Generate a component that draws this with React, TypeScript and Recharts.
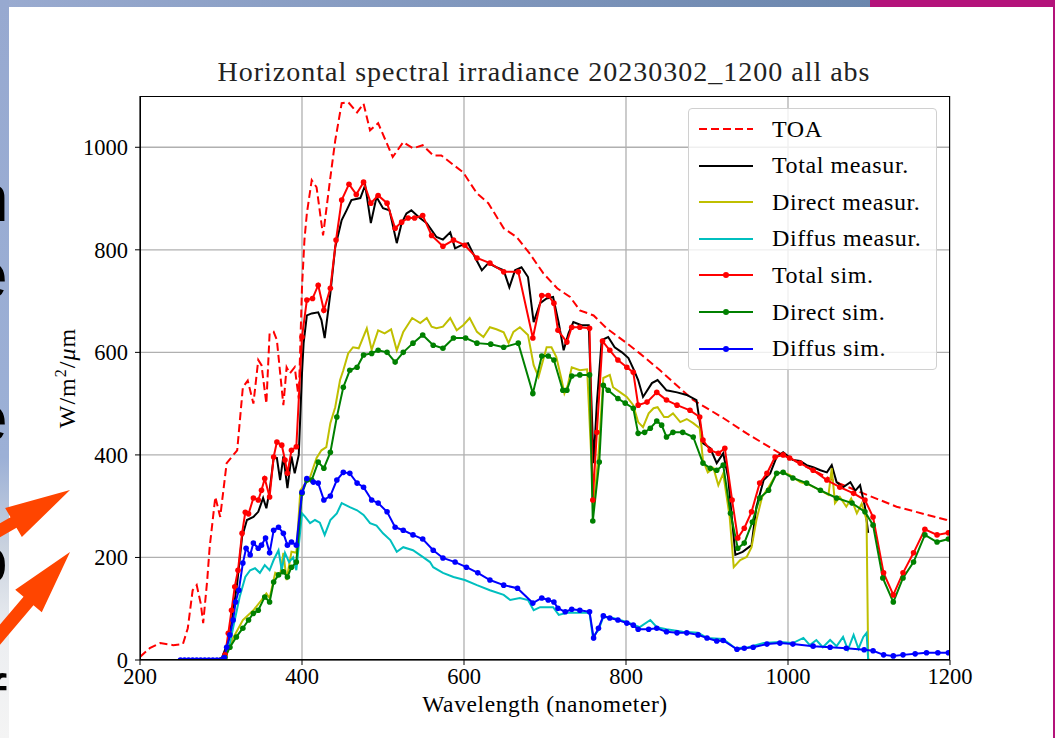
import { LineChart, Line, XAxis, YAxis, CartesianGrid } from "recharts";

// [wavelength nm, W/m2/um] pairs
const toa: [number, number][] = [
  [200, 6], [212, 23], [225, 33], [241, 29], [253, 31], [259, 62], [265, 136], [270, 146], [275, 110], [278, 72],
  [283, 156], [286, 220], [293, 318], [299, 279], [307, 384], [320, 409], [327, 532], [333, 545], [340, 500], [346, 585],
  [350, 575], [356, 500], [360, 637], [365, 640], [369, 624], [373, 560], [377, 497], [381, 571], [385, 559], [391, 571],
  [396, 510], [400, 727], [403, 819], [406, 871], [412, 936], [418, 922], [426, 828], [435, 941], [441, 1013], [449, 1086],
  [457, 1088], [468, 1068], [476, 1085], [484, 1033], [494, 1047], [512, 981], [525, 1010], [537, 998], [549, 1004], [562, 984],
  [572, 984], [599, 951], [616, 910], [630, 891], [649, 842], [665, 825], [681, 793], [698, 754], [715, 725], [731, 708],
  [743, 682], [760, 672], [776, 647], [801, 618], [817, 598], [842, 565], [883, 507], [920, 472], [949, 442], [990, 403],
  [1031, 370], [1064, 344], [1093, 325], [1134, 299], [1196, 273], [1200, 270],
];

const totalMeas: [number, number][] = [
  [300, 0], [310, 40], [320, 150], [326, 240], [332, 273], [340, 279], [346, 289], [352, 316], [356, 296], [360, 330],
  [365, 394], [369, 394], [373, 351], [377, 397], [382, 335], [387, 397], [391, 364], [396, 400], [400, 560], [402, 618],
  [406, 672], [412, 676], [420, 678], [424, 663], [428, 628], [435, 715], [441, 805], [449, 858], [455, 877], [461, 897],
  [472, 901], [478, 926], [485, 852], [492, 903], [500, 881], [508, 877], [517, 813], [523, 852], [529, 871], [535, 877],
  [544, 864], [554, 852], [566, 825], [574, 820], [583, 834], [589, 803], [597, 809], [605, 813], [614, 784], [622, 760],
  [630, 774], [640, 766], [649, 760], [656, 727], [663, 760], [671, 766], [679, 747], [686, 659], [694, 696], [702, 705],
  [710, 708], [717, 657], [723, 604], [729, 637], [735, 659], [745, 653], [754, 653], [760, 384], [764, 500], [770, 624],
  [778, 630], [786, 610], [795, 600], [803, 589], [810, 565], [815, 546], [821, 513], [832, 540], [839, 546], [850, 526],
  [863, 522], [875, 517], [887, 507], [895, 423], [904, 413], [912, 384], [920, 403], [926, 357], [935, 205], [944, 211],
  [955, 224], [961, 299], [970, 351], [978, 364], [986, 396], [994, 405], [1006, 390], [1015, 388], [1023, 380], [1031, 376],
  [1040, 370], [1048, 366], [1054, 380], [1060, 347], [1068, 337], [1077, 347], [1083, 330], [1089, 341], [1095, 299], [1099, 248],
];

const directMeas: [number, number][] = [
  [300, 0], [305, 5], [315, 43], [327, 78], [340, 97], [350, 117], [356, 130], [360, 121], [367, 170], [373, 165],
  [377, 209], [381, 156], [387, 211], [393, 209], [398, 331], [410, 357], [418, 394], [424, 409], [430, 415], [435, 462],
  [441, 493], [447, 546], [451, 565], [457, 598], [463, 610], [470, 608], [480, 647], [486, 605], [494, 643], [502, 637],
  [510, 645], [517, 604], [525, 640], [536, 667], [546, 657], [554, 667], [560, 650], [566, 647], [574, 650], [583, 667],
  [591, 643], [599, 653], [607, 667], [616, 640], [624, 630], [632, 649], [640, 645], [649, 639], [655, 618], [661, 640],
  [669, 649], [679, 634], [686, 575], [692, 552], [702, 610], [708, 610], [714, 591], [720, 550], [724, 520], [728, 535],
  [733, 571], [743, 565], [752, 567], [760, 300], [766, 400], [772, 550], [780, 556], [784, 532], [793, 522], [801, 513],
  [809, 497], [815, 464], [821, 454], [828, 481], [834, 491], [839, 493], [847, 474], [852, 474], [858, 481], [867, 464],
  [875, 470], [883, 462], [891, 452], [895, 390], [901, 366], [908, 374], [914, 341], [920, 364], [928, 279], [933, 181],
  [941, 195], [949, 201], [955, 220], [961, 273], [968, 318], [976, 337], [986, 364], [994, 366], [1002, 361], [1015, 347],
  [1027, 341], [1040, 331], [1050, 322], [1054, 374], [1058, 306], [1064, 318], [1072, 299], [1078, 315], [1085, 286], [1091, 305],
  [1097, 273], [1099, 4], [1100, 0], [1200, 0],
];

const diffusMeas: [number, number][] = [
  [300, 0], [305, 5], [311, 33], [317, 78], [323, 123], [330, 162], [336, 175], [342, 179], [348, 170], [354, 185],
  [360, 175], [365, 195], [371, 214], [375, 175], [379, 209], [384, 191], [389, 200], [393, 175], [400, 286], [404, 279],
  [410, 267], [416, 273], [422, 268], [428, 244], [435, 273], [443, 286], [449, 306], [459, 298], [468, 292], [476, 283],
  [484, 267], [492, 262], [500, 247], [509, 234], [517, 211], [525, 220], [537, 214], [549, 201], [558, 191], [562, 181],
  [574, 170], [587, 162], [601, 156], [616, 146], [632, 136], [649, 127], [657, 117], [669, 121], [679, 117], [686, 97],
  [694, 103], [710, 103], [717, 88], [727, 92], [743, 92], [755, 92], [759, 45], [766, 58], [772, 84], [784, 82],
  [801, 74], [817, 64], [830, 78], [838, 64], [850, 60], [870, 55], [889, 53], [900, 43], [920, 41], [935, 23],
  [951, 25], [970, 33], [990, 35], [1006, 33], [1019, 43], [1027, 29], [1035, 39], [1043, 25], [1052, 39], [1060, 27],
  [1068, 45], [1074, 20], [1081, 49], [1087, 22], [1093, 45], [1097, 53], [1099, 0], [1200, 0],
];

const totalSim: [number, number][] = [
  [300, 0], [305, 10], [309, 52], [313, 97], [317, 143], [321, 175], [326, 247], [330, 288], [334, 285], [340, 316],
  [346, 312], [350, 331], [354, 354], [360, 318], [365, 396], [369, 425], [375, 419], [379, 390], [382, 364], [387, 409],
  [393, 416], [400, 630], [406, 702], [413, 705], [420, 731], [427, 682], [435, 725], [442, 819], [449, 897], [458, 928],
  [467, 908], [476, 932], [485, 891], [494, 906], [505, 891], [515, 842], [523, 854], [531, 862], [539, 862], [549, 867],
  [560, 828], [574, 807], [587, 819], [601, 809], [616, 784], [632, 774], [649, 757], [667, 757], [685, 628], [696, 711],
  [704, 711], [711, 696], [716, 643], [727, 620], [733, 649], [743, 649], [755, 647], [759, 312], [764, 444], [771, 622],
  [780, 604], [790, 585], [801, 571], [809, 561], [815, 497], [826, 503], [838, 522], [850, 507], [863, 497], [879, 487],
  [891, 474], [895, 429], [904, 409], [914, 403], [922, 413], [931, 312], [938, 238], [946, 257], [955, 289], [965, 345],
  [974, 364], [984, 396], [994, 400], [1002, 394], [1015, 384], [1031, 370], [1048, 351], [1064, 337], [1081, 325], [1095, 312],
  [1105, 279], [1118, 170], [1130, 127], [1142, 170], [1155, 209], [1169, 255], [1184, 244], [1198, 248],
];

const directSim: [number, number][] = [
  [300, 0], [305, 5], [311, 25], [319, 45], [327, 62], [334, 78], [340, 91], [346, 97], [354, 123], [360, 113],
  [365, 152], [371, 166], [377, 172], [382, 162], [387, 181], [393, 191], [400, 325], [406, 351], [412, 351], [420, 386],
  [427, 374], [435, 405], [443, 474], [451, 532], [459, 565], [468, 571], [476, 595], [486, 598], [494, 604], [505, 600],
  [515, 581], [525, 600], [537, 618], [549, 634], [562, 614], [574, 608], [587, 628], [602, 628], [616, 618], [633, 616],
  [649, 610], [667, 618], [685, 520], [696, 593], [704, 593], [711, 585], [722, 526], [727, 526], [733, 554], [743, 556],
  [755, 556], [759, 271], [767, 386], [772, 536], [778, 526], [790, 510], [799, 501], [809, 491], [815, 442], [823, 444],
  [830, 452], [838, 466], [844, 458], [850, 435], [858, 444], [870, 444], [883, 435], [895, 384], [904, 374], [912, 370],
  [920, 380], [929, 286], [938, 218], [946, 228], [956, 269], [965, 316], [976, 331], [986, 364], [994, 366], [1006, 355],
  [1023, 345], [1040, 331], [1060, 316], [1079, 306], [1095, 289], [1105, 263], [1117, 160], [1130, 113], [1142, 160], [1155, 191],
  [1169, 244], [1184, 230], [1198, 236],
];

const diffusSim: [number, number][] = [
  [250, 0], [255, 0], [260, 0], [265, 0], [270, 0], [275, 0], [280, 0], [285, 0], [290, 0], [295, 0],
  [300, 0], [304, 5], [307, 25], [311, 49], [315, 78], [318, 113], [322, 136], [327, 189], [331, 218], [336, 205],
  [340, 228], [346, 218], [350, 224], [355, 238], [360, 209], [365, 253], [371, 259], [377, 247], [382, 224], [387, 230],
  [393, 224], [400, 327], [406, 354], [414, 347], [420, 345], [427, 312], [435, 320], [443, 351], [451, 366], [459, 364],
  [468, 345], [476, 337], [486, 312], [494, 306], [505, 289], [515, 259], [525, 253], [537, 244], [549, 236], [562, 214],
  [574, 199], [589, 191], [603, 181], [617, 170], [632, 156], [649, 146], [666, 140], [685, 111], [696, 121], [704, 117],
  [711, 113], [716, 101], [725, 94], [733, 99], [743, 97], [755, 94], [760, 43], [766, 62], [772, 86], [780, 82],
  [790, 78], [801, 72], [809, 68], [815, 60], [828, 60], [838, 62], [850, 55], [863, 53], [875, 53], [889, 49],
  [900, 43], [912, 37], [920, 38], [937, 21], [946, 23], [957, 25], [974, 31], [990, 33], [1006, 31], [1031, 27],
  [1052, 25], [1072, 23], [1094, 20], [1105, 18], [1118, 10], [1130, 8], [1142, 10], [1157, 12], [1171, 14], [1185, 14],
  [1198, 14],
];

const xTicks = [200, 400, 600, 800, 1000, 1200];
const yTicks = [0, 200, 400, 600, 800, 1000];

const series = [
  { name: "TOA", data: toa, color: "#ff0000", dash: "8 4", dot: false },
  { name: "Total measur.", data: totalMeas, color: "#000000", dash: undefined, dot: false },
  { name: "Direct measur.", data: directMeas, color: "#bfbf00", dash: undefined, dot: false },
  { name: "Diffus measur.", data: diffusMeas, color: "#00bfbf", dash: undefined, dot: false },
  { name: "Total sim.", data: totalSim, color: "#ff0000", dash: undefined, dot: true },
  { name: "Direct sim.", data: directSim, color: "#008000", dash: undefined, dot: true },
  { name: "Diffus sim.", data: diffusSim, color: "#0000ff", dash: undefined, dot: true },
];

const SERIF = "'Liberation Serif', 'DejaVu Serif', serif";

// plot box in page pixels
const PL = 140, PT = 96, PR = 950, PB = 660;

function arrowPoints(tip: number[], base: number[], headHalf: number, shaftHalf: number, tailLen: number) {
  const dx = tip[0] - base[0], dy = tip[1] - base[1];
  const len = Math.hypot(dx, dy);
  const ux = dx / len, uy = dy / len;
  const px = -uy, py = ux;
  const tail = [base[0] - ux * tailLen, base[1] - uy * tailLen];
  const pts = [
    tip,
    [base[0] + px * headHalf, base[1] + py * headHalf],
    [base[0] + px * shaftHalf, base[1] + py * shaftHalf],
    [tail[0] + px * shaftHalf, tail[1] + py * shaftHalf],
    [tail[0] - px * shaftHalf, tail[1] - py * shaftHalf],
    [base[0] - px * shaftHalf, base[1] - py * shaftHalf],
    [base[0] - px * headHalf, base[1] - py * headHalf],
  ];
  return pts.map((p) => p.join(",")).join(" ");
}

function LegendBox() {
  return (
    <div
      style={{
        position: "absolute",
        left: 688,
        top: 108,
        width: 249,
        height: 262,
        boxSizing: "border-box",
        border: "1px solid #d0d0d0",
        borderRadius: 4,
        background: "rgba(255,255,255,0.8)",
        fontFamily: SERIF,
        fontSize: 24,
        letterSpacing: 0.6,
        color: "#000",
      }}
    >
      {series.map((s, i) => (
        <div key={s.name} style={{ position: "absolute", left: 9, top: 3 + i * 36.6, height: 34, display: "flex", alignItems: "center" }}>
          <svg width={56} height={10} style={{ marginRight: 18 }}>
            <line x1={1} y1={5} x2={55} y2={5} stroke={s.color} strokeWidth={2} strokeDasharray={s.dash} />
            {s.dot && <circle cx={28} cy={5} r={3} fill={s.color} />}
          </svg>
          <span style={{ whiteSpace: "nowrap" }}>{s.name}</span>
        </div>
      ))}
    </div>
  );
}

export default function App() {
  return (
    <div style={{ position: "fixed", left: 0, top: 0, width: 1055, height: 738, background: "#fff", overflow: "hidden" }}>
      {/* slide decoration */}
      <div style={{ position: "absolute", left: 0, top: 0, width: 870, height: 7, background: "linear-gradient(90deg, #9aabd0, #6b86ad)" }} />
      <div style={{ position: "absolute", left: 870, top: 0, width: 185, height: 7, background: "#b3137a" }} />
      <div style={{ position: "absolute", left: 1053, top: 0, width: 2, height: 738, background: "#b3137a" }} />
      <div
        style={{
          position: "absolute",
          left: 0,
          top: 0,
          width: 9,
          height: 738,
          overflow: "hidden",
          background: "linear-gradient(180deg, #97a9d0 0%, #9cb0d6 62%, #c9d2df 74%, #eceef1 86%, #f4f4f4 100%)",
          fontFamily: "'Liberation Sans', 'DejaVu Sans', sans-serif",
          fontSize: 66,
          color: "#000",
          lineHeight: 1,
        }}
      >
        <span style={{ position: "absolute", left: -28, top: 165 }}>n</span>
        <span style={{ position: "absolute", left: -29, top: 242 }}>e</span>
        <span style={{ position: "absolute", left: -29, top: 385 }}>e</span>
        <span style={{ position: "absolute", left: -29, top: 527 }}>o</span>
        <span style={{ position: "absolute", left: -12, top: 665 }}>f</span>
      </div>

      <div style={{ position: "absolute", left: 0, top: 0 }}>
        <LineChart width={1055} height={738} margin={{ top: PT, right: 1055 - PR, bottom: 738 - PB - 30, left: PL - 60 }}>
          <CartesianGrid stroke="#b0b0b0" strokeWidth={1.3} horizontalValues={yTicks} verticalValues={xTicks} />
          <XAxis
            dataKey="x"
            type="number"
            domain={[200, 1200]}
            ticks={xTicks}
            interval={0}
            allowDataOverflow
            height={30}
            stroke="#000"
            tickSize={5}
            tickMargin={3}
            tick={{ fontSize: 22.5, fill: "#000", fontFamily: SERIF }}
          />
          <YAxis
            type="number"
            domain={[0, 1100]}
            ticks={yTicks}
            interval={0}
            allowDataOverflow
            width={60}
            stroke="#000"
            tickSize={5}
            tickMargin={7}
            tick={{ fontSize: 22.5, fill: "#000", fontFamily: SERIF }}
          />
          {series.map((s) => (
            <Line
              key={s.name}
              data={s.data.map(([x, y]) => ({ x, y }))}
              dataKey="y"
              type="linear"
              stroke={s.color}
              strokeWidth={2}
              strokeDasharray={s.dash}
              dot={s.dot ? { r: 2.8, fill: s.color, stroke: s.color, strokeWidth: 0 } : false}
              activeDot={false}
              isAnimationActive={false}
            />
          ))}
        </LineChart>
      </div>

      {/* axes frame */}
      <div style={{ position: "absolute", left: PL, top: PT, width: PR - PL, height: PB - PT, boxSizing: "border-box", border: "1.3px solid #000", pointerEvents: "none" }} />

      <LegendBox />

      <div style={{ position: "absolute", left: 0, width: 1088, top: 56, textAlign: "center", fontFamily: SERIF, fontSize: 28, letterSpacing: 1, color: "#222", whiteSpace: "nowrap" }}>
        Horizontal spectral irradiance 20230302_1200 all abs
      </div>
      <div style={{ position: "absolute", left: PL, width: PR - PL, top: 691, textAlign: "center", fontFamily: SERIF, fontSize: 23.5, letterSpacing: 0.6, color: "#000" }}>
        Wavelength (nanometer)
      </div>
      <div
        style={{
          position: "absolute",
          left: 66,
          top: 378,
          transform: "translate(-50%, -50%) rotate(-90deg)",
          fontFamily: SERIF,
          fontSize: 24,
          letterSpacing: 1,
          color: "#000",
          whiteSpace: "nowrap",
        }}
      >
        W/m<sup style={{ fontSize: 16 }}>2</sup>/<i>μ</i>m
      </div>

      {/* arrows */}
      <svg width={120} height={738} style={{ position: "absolute", left: 0, top: 0, pointerEvents: "none" }}>
        <polygon points={arrowPoints([70, 490], [13.5, 522.5], 16.8, 6, 45)} fill="#ff4500" />
        <polygon points={arrowPoints([70, 552], [28.5, 601], 17.4, 6.5, 60)} fill="#ff4500" />
      </svg>
    </div>
  );
}
